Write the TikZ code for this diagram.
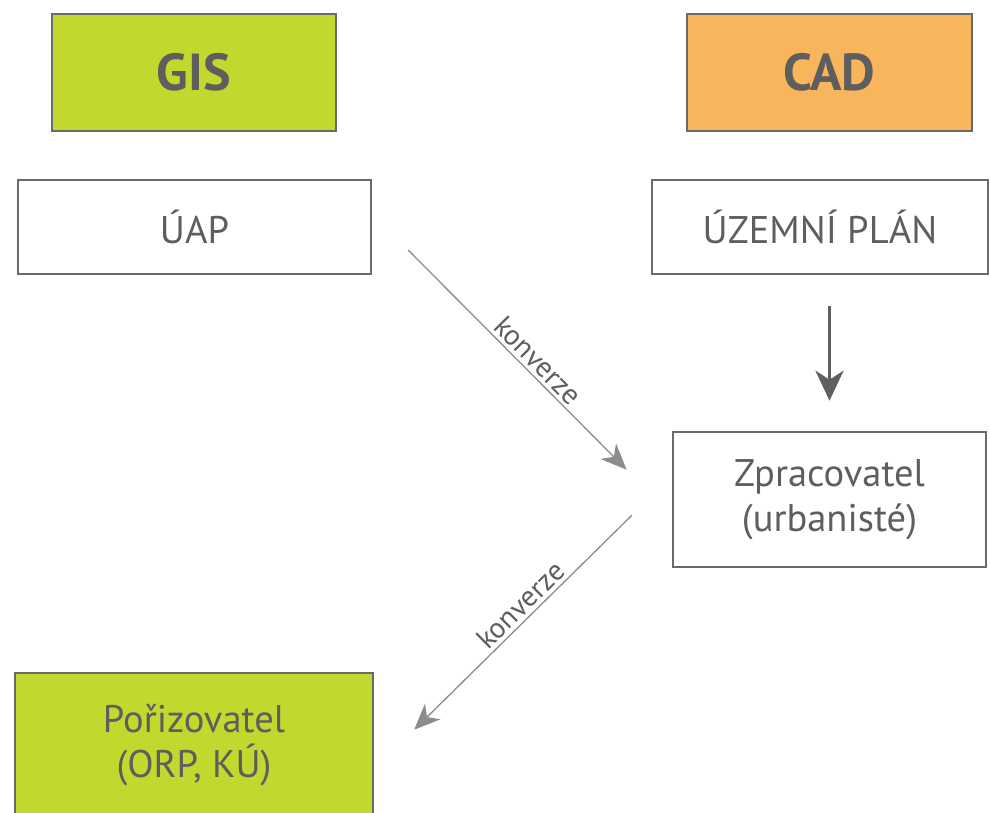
\documentclass[tikz,border=0pt]{standalone}
\usepackage{fontspec}
\setmainfont{PT Sans}
\usetikzlibrary{arrows.meta}
\definecolor{gisgreen}{HTML}{C2D82F}
\definecolor{cadorange}{HTML}{F9B55B}
\definecolor{boxgray}{HTML}{6A6A6A}
\definecolor{textgray}{HTML}{5E5E5E}
\definecolor{linegray}{HTML}{8C8C8C}
\begin{document}
\begin{tikzpicture}[x=1pt,y=-1pt,
	box/.style={draw=boxgray,line width=2.6pt,text=textgray,align=center,inner sep=0pt,font=\fontsize{38.5}{45}\selectfont},
	head/.style={box,font=\fontsize{52}{56}\selectfont\bfseries},
	conv/.style={draw=linegray,line width=1.3pt,-{Stealth[length=26pt,width=22pt,inset=8pt]}},
	convlabel/.style={sloped,above=0pt,text=textgray,font=\fontsize{29}{32}\selectfont},
	down/.style={draw=boxgray!90!black,line width=3.5pt,-{Stealth[length=30pt,width=28pt,inset=9pt]}}]
	\useasboundingbox (0,0) rectangle (990,812);
	\node[head,fill=gisgreen,minimum width=284,minimum height=117] (gis) at (194,72.5) {GIS};
	\node[head,fill=cadorange,minimum width=285,minimum height=117] (cad) at (829.5,72.5) {CAD};
	\node[box,minimum width=353,minimum height=94] (uap) at (194.5,227) {ÚAP};
	\node[box,minimum width=336,minimum height=94] (plan) at (820,227) {ÚZEMNÍ PLÁN};
	\node[box,minimum width=313,minimum height=135] (zprac) at (829.5,499.5) {Zpracovatel\\(urbanisté)};
	\node[box,fill=gisgreen,minimum width=358,minimum height=144] (poriz) at (194,745) {Pořizovatel\\(ORP, KÚ)};
	\draw[down,shorten <=31pt,shorten >=30pt] ([xshift=9.5pt]plan.south) -- (zprac.north);
	\draw[conv,shorten <=51pt,shorten >=64pt] ([yshift=13pt]uap.east) -- ([yshift=-15.5pt]zprac.west)
		node[convlabel,pos=0.52] {konverze};
	\draw[conv,shorten <=56pt,shorten >=56pt] ([yshift=23.5pt]zprac.west) -- ([yshift=-24pt]poriz.east)
		node[convlabel,pos=0.475] {konverze};
\end{tikzpicture}
\end{document}
